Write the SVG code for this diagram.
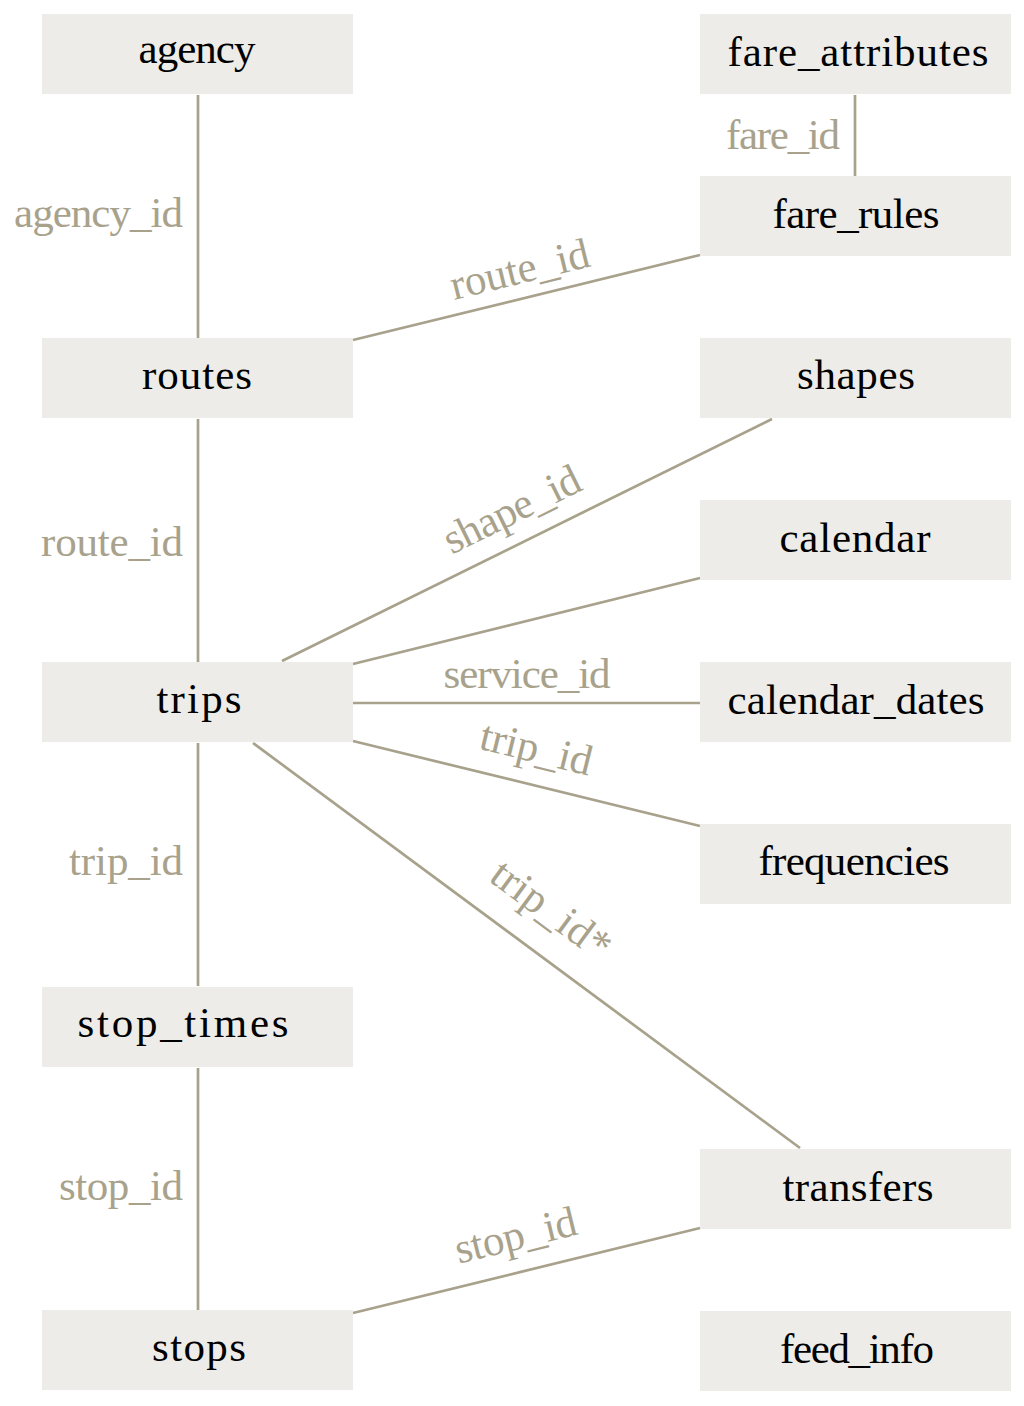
<svg xmlns="http://www.w3.org/2000/svg" width="1024" height="1406" viewBox="0 0 1024 1406">
<style>
.n rect{fill:#EDECE8}
.n text{font-family:"Liberation Serif","DejaVu Serif",serif;font-size:43px;fill:#000;text-anchor:middle}
#edges line{stroke:#A8A28C;stroke-width:2.7}
.l{font-family:"Liberation Serif","DejaVu Serif",serif;font-size:43px;fill:#A8A28C}
.m{text-anchor:middle}
.e{text-anchor:end}
</style>
<rect width="1024" height="1406" fill="#fff"/>
<g id="edges">
<line x1="198" y1="95" x2="198" y2="338"/>
<line x1="198" y1="419" x2="198" y2="662"/>
<line x1="198" y1="743" x2="198" y2="986"/>
<line x1="198" y1="1068" x2="198" y2="1310"/>
<line x1="855" y1="95" x2="855" y2="176"/>
<line x1="353" y1="340" x2="700" y2="255"/>
<line x1="282" y1="661" x2="772" y2="419"/>
<line x1="353" y1="664" x2="700" y2="578"/>
<line x1="353" y1="703" x2="700" y2="703"/>
<line x1="353" y1="741" x2="700" y2="826"/>
<line x1="253" y1="743" x2="800" y2="1148"/>
<line x1="353" y1="1313" x2="700" y2="1228"/>
<text class="l e" x="183" y="227" textLength="169">agency_id</text>
<text class="l e" x="183" y="556" textLength="142">route_id</text>
<text class="l e" x="183" y="875" textLength="114">trip_id</text>
<text class="l e" x="183" y="1200" textLength="124">stop_id</text>
<text class="l e" x="840" y="149" textLength="114">fare_id</text>
<text class="l m" x="527" y="688" textLength="167">service_id</text>
<text class="l m" x="523" y="283" textLength="142" transform="rotate(-13.8 523 283)">route_id</text>
<text class="l m" x="518" y="522" textLength="148" transform="rotate(-26.3 518 522)">shape_id</text>
<text class="l m" x="533" y="762" textLength="114" transform="rotate(13.8 533 762)">trip_id</text>
<text class="l m" x="543" y="921" textLength="138" transform="rotate(36.5 543 921)">trip_id*</text>
<text class="l m" x="519" y="1249" textLength="124" transform="rotate(-13.8 519 1249)">stop_id</text>
</g>
<g id="agency" class="n"><rect x="42" y="14" width="311" height="80"/><text x="197" y="63" textLength="117">agency</text></g>
<g id="routes" class="n"><rect x="42" y="338" width="311" height="80"/><text x="197" y="389" textLength="110">routes</text></g>
<g id="trips" class="n"><rect x="42" y="662" width="311" height="80"/><text x="199" y="713" textLength="85">trips</text></g>
<g id="stop_times" class="n"><rect x="42" y="987" width="311" height="80"/><text x="183" y="1037" textLength="211">stop_times</text></g>
<g id="stops" class="n"><rect x="42" y="1310" width="311" height="80"/><text x="199" y="1361" textLength="94">stops</text></g>
<g id="fare_attributes" class="n"><rect x="700" y="14" width="311" height="80"/><text x="858" y="66" textLength="261">fare_attributes</text></g>
<g id="fare_rules" class="n"><rect x="700" y="176" width="311" height="80"/><text x="856" y="228" textLength="167">fare_rules</text></g>
<g id="shapes" class="n"><rect x="700" y="338" width="311" height="80"/><text x="856" y="389" textLength="118">shapes</text></g>
<g id="calendar" class="n"><rect x="700" y="500" width="311" height="80"/><text x="855" y="552" textLength="151">calendar</text></g>
<g id="calendar_dates" class="n"><rect x="700" y="662" width="311" height="80"/><text x="856" y="714" textLength="257">calendar_dates</text></g>
<g id="frequencies" class="n"><rect x="700" y="824" width="311" height="80"/><text x="854" y="875" textLength="191">frequencies</text></g>
<g id="transfers" class="n"><rect x="700" y="1149" width="311" height="80"/><text x="858" y="1201" textLength="151">transfers</text></g>
<g id="feed_info" class="n"><rect x="700" y="1311" width="311" height="80"/><text x="857" y="1363" textLength="154">feed_info</text></g>
</svg>
